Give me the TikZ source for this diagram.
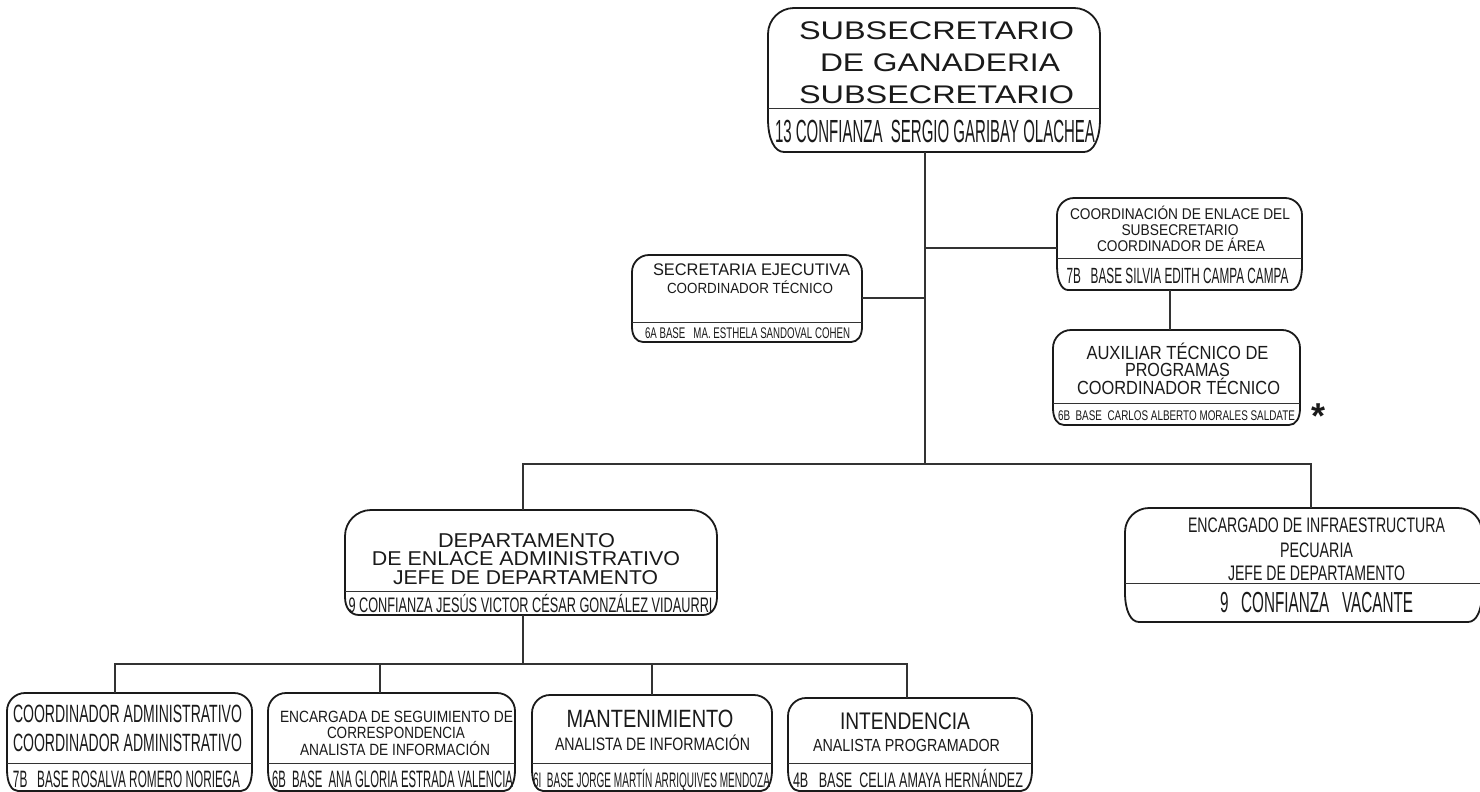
\documentclass[tikz,border=0pt]{standalone}
\usepackage{fontspec}
\usepackage{graphicx}
\setmainfont{Liberation Sans}
\definecolor{ink}{HTML}{1A1A1A}
\definecolor{lineg}{HTML}{333333}
\tikzset{
  boxline/.style={draw=ink, line width=1.8pt, line join=round},
  divline/.style={draw=lineg, line width=0.9pt},
  conn/.style={draw=lineg, line width=1.1pt},
  txt/.style={inner sep=0pt, outer sep=0pt, text=ink},
}
% #1 name, #2 x1, #3 y1, #4 x2, #5 y2, #6 divider y, #7 top radius, #8 bottom x radius
\newcommand\orgbox[8]{%
  \node[inner sep=0pt, outer sep=0pt, minimum width={(#4-#2)*1pt}, minimum height={(#5-#3)*1pt}] (#1) at ({(#2+#4)/2},{(#3+#5)/2}) {};
  \pgfmathsetmacro\rbx{#8}\pgfmathsetmacro\rby{0.75*(#5-#6)}%
  \draw[boxline] (#2,{#3+#7}) -- (#2,{#5-\rby})
    .. controls (#2,{#5-0.4*\rby}) and ({#2+0.4*\rbx},#5) .. ({#2+\rbx},#5)
    -- ({#4-\rbx},#5)
    .. controls ({#4-0.4*\rbx},#5) and (#4,{#5-0.4*\rby}) .. (#4,{#5-\rby})
    -- (#4,{#3+#7})
    .. controls (#4,{#3+0.45*#7}) and ({#4-0.45*#7},#3) .. ({#4-#7},#3)
    -- ({#2+#7},#3)
    .. controls ({#2+0.45*#7},#3) and (#2,{#3+0.45*#7}) .. (#2,{#3+#7}) -- cycle;
  \draw[divline] (#2,#6) -- (#4,#6);
}
\newcommand\tl[6]{\node[txt, anchor=base] (#1) at (#2,#3) {\fontsize{#4}{#4}\selectfont\resizebox{#5pt}{\height}{#6}};}
\begin{document}
\begin{tikzpicture}[x=1pt,y=-1pt]
\useasboundingbox (0,0) rectangle (1480,792);
\clip (0,0) rectangle (1480,792);
\fill[white] (0,0) rectangle (1480,792);

% boxes
\orgbox{top}{768}{8}{1100}{152}{108}{26}{16}
\orgbox{sec}{632}{255}{862}{342}{322}{17}{11}
\orgbox{coord}{1057}{198}{1302}{290}{258}{17}{11}
\orgbox{aux}{1053}{330}{1300}{425}{403}{18}{11}
\orgbox{dept}{345}{510}{717}{615}{591}{26}{14}
\orgbox{enc}{1125}{508}{1482}{622}{583}{24}{14}
\orgbox{b1}{7}{693}{252}{791}{763}{18}{11}
\orgbox{b2}{268}{693}{515}{791}{763}{18}{11}
\orgbox{b3}{532}{695}{772}{791}{763}{18}{11}
\orgbox{b4}{788}{698}{1032}{791}{763}{18}{11}

% connector points
\coordinate (j1) at (925,464);
\coordinate (c1) at (925,298);
\coordinate (c2) at (925,248);
\coordinate (ca) at (1170,0);
\coordinate (bl) at (523,464);
\coordinate (br) at (1311,464);
\coordinate (l0) at (523,664);
\coordinate (l1) at (115,664);
\coordinate (l2) at (380,664);
\coordinate (l3) at (652,664);
\coordinate (l4) at (907,664);

\draw[conn] (top.south -| j1) -- (j1);
\draw[conn] (c1 -| sec.east) -- (c1);
\draw[conn] (c2) -- (c2 -| coord.west);
\draw[conn] (ca |- coord.south) -- (ca |- aux.north);
\draw[conn] (bl |- dept.north) -- (bl) -- (br) -- (br |- enc.north);
\draw[conn] (dept.south -| l0) -- (l0);
\draw[conn] (l1 |- b1.north) -- (l1) -- (l4) -- (l4 |- b4.north);
\draw[conn] (l2) -- (l2 |- b2.north);
\draw[conn] (l3) -- (l3 |- b3.north);

% top box text
\tl{t1}{936.5}{39.5}{25.5}{275}{SUBSECRETARIO}
\tl{t2}{940}{72}{25.5}{240}{DE GANADERIA}
\tl{t3}{936.5}{103}{25.5}{275}{SUBSECRETARIO}
\tl{t4}{935}{142}{32}{320}{13 CONFIANZA~~SERGIO GARIBAY OLACHEA}

% secretaria
\tl{s1}{751.5}{275}{16.8}{197}{SECRETARIA EJECUTIVA}
\tl{s2}{750}{293}{14.7}{166}{COORDINADOR TÉCNICO}
\tl{s3}{747.5}{338}{15.4}{205}{6A BASE~~~MA. ESTHELA SANDOVAL COHEN}

% coordinacion
\tl{k1}{1180}{219}{15.5}{220}{COORDINACIÓN DE ENLACE DEL}
\tl{k2}{1180}{235}{15.5}{117}{SUBSECRETARIO}
\tl{k3}{1181}{251}{15.5}{168}{COORDINADOR DE ÁREA}
\tl{k4}{1177.5}{283}{22}{222}{7B~~~BASE SILVIA EDITH CAMPA CAMPA}

% auxiliar
\tl{a1}{1177.5}{359}{19}{182}{AUXILIAR TÉCNICO DE}
\tl{a2}{1177.5}{376}{19}{105}{PROGRAMAS}
\tl{a3}{1178.5}{394}{19}{203}{COORDINADOR TÉCNICO}
\tl{a4}{1176.5}{420}{14}{237}{6B~~BASE~~CARLOS ALBERTO MORALES SALDATE}
\node[txt, anchor=base] (star) at (1318,428) {\fontsize{36}{36}\selectfont\bfseries *};

% departamento
\tl{d1}{526.5}{547}{20}{177}{DEPARTAMENTO}
\tl{d2}{526}{565.5}{20}{308}{DE ENLACE ADMINISTRATIVO}
\tl{d3}{525.5}{584}{20}{265}{JEFE DE DEPARTAMENTO}
\tl{d4}{530.5}{612}{21}{364}{9 CONFIANZA JESÚS VICTOR CÉSAR GONZÁLEZ VIDAURRI}

% encargado
\tl{e1}{1316.5}{532}{21}{257}{ENCARGADO DE INFRAESTRUCTURA}
\tl{e2}{1316.5}{557}{21}{73}{PECUARIA}
\tl{e3}{1316.5}{580}{21}{177}{JEFE DE DEPARTAMENTO}
\tl{e4}{1316.5}{612}{29}{193}{9~~~CONFIANZA~~~VACANTE}

% bottom box 1
\tl{p1}{127.5}{722}{25}{229}{COORDINADOR ADMINISTRATIVO}
\tl{p2}{127.5}{751}{25}{229}{COORDINADOR ADMINISTRATIVO}
\tl{p3}{126.5}{787}{23.7}{227}{7B~~~BASE ROSALVA ROMERO NORIEGA}

% bottom box 2
\tl{q1}{396.5}{722}{16.3}{233}{ENCARGADA DE SEGUIMIENTO DE}
\tl{q2}{396}{738}{16.3}{138}{CORRESPONDENCIA}
\tl{q3}{395}{755}{16.3}{190}{ANALISTA DE INFORMACIÓN}
\tl{q4}{392.5}{787}{23.7}{241}{6B~~BASE~~ANA GLORIA ESTRADA VALENCIA}

% bottom box 3
\tl{r1}{650}{727}{25}{167}{MANTENIMIENTO}
\tl{r2}{652.5}{750}{18}{195}{ANALISTA DE INFORMACIÓN}
\tl{r3}{651.5}{787}{21}{237}{6I~~BASE JORGE MARTÍN ARRIQUIVES MENDOZA}

% bottom box 4
\tl{u1}{905}{729}{24}{130}{INTENDENCIA}
\tl{u2}{906.5}{751}{17.5}{187}{ANALISTA PROGRAMADOR}
\tl{u3}{908}{787}{21}{230}{4B~~~BASE~~CELIA AMAYA HERNÁNDEZ}
\end{tikzpicture}
\end{document}
